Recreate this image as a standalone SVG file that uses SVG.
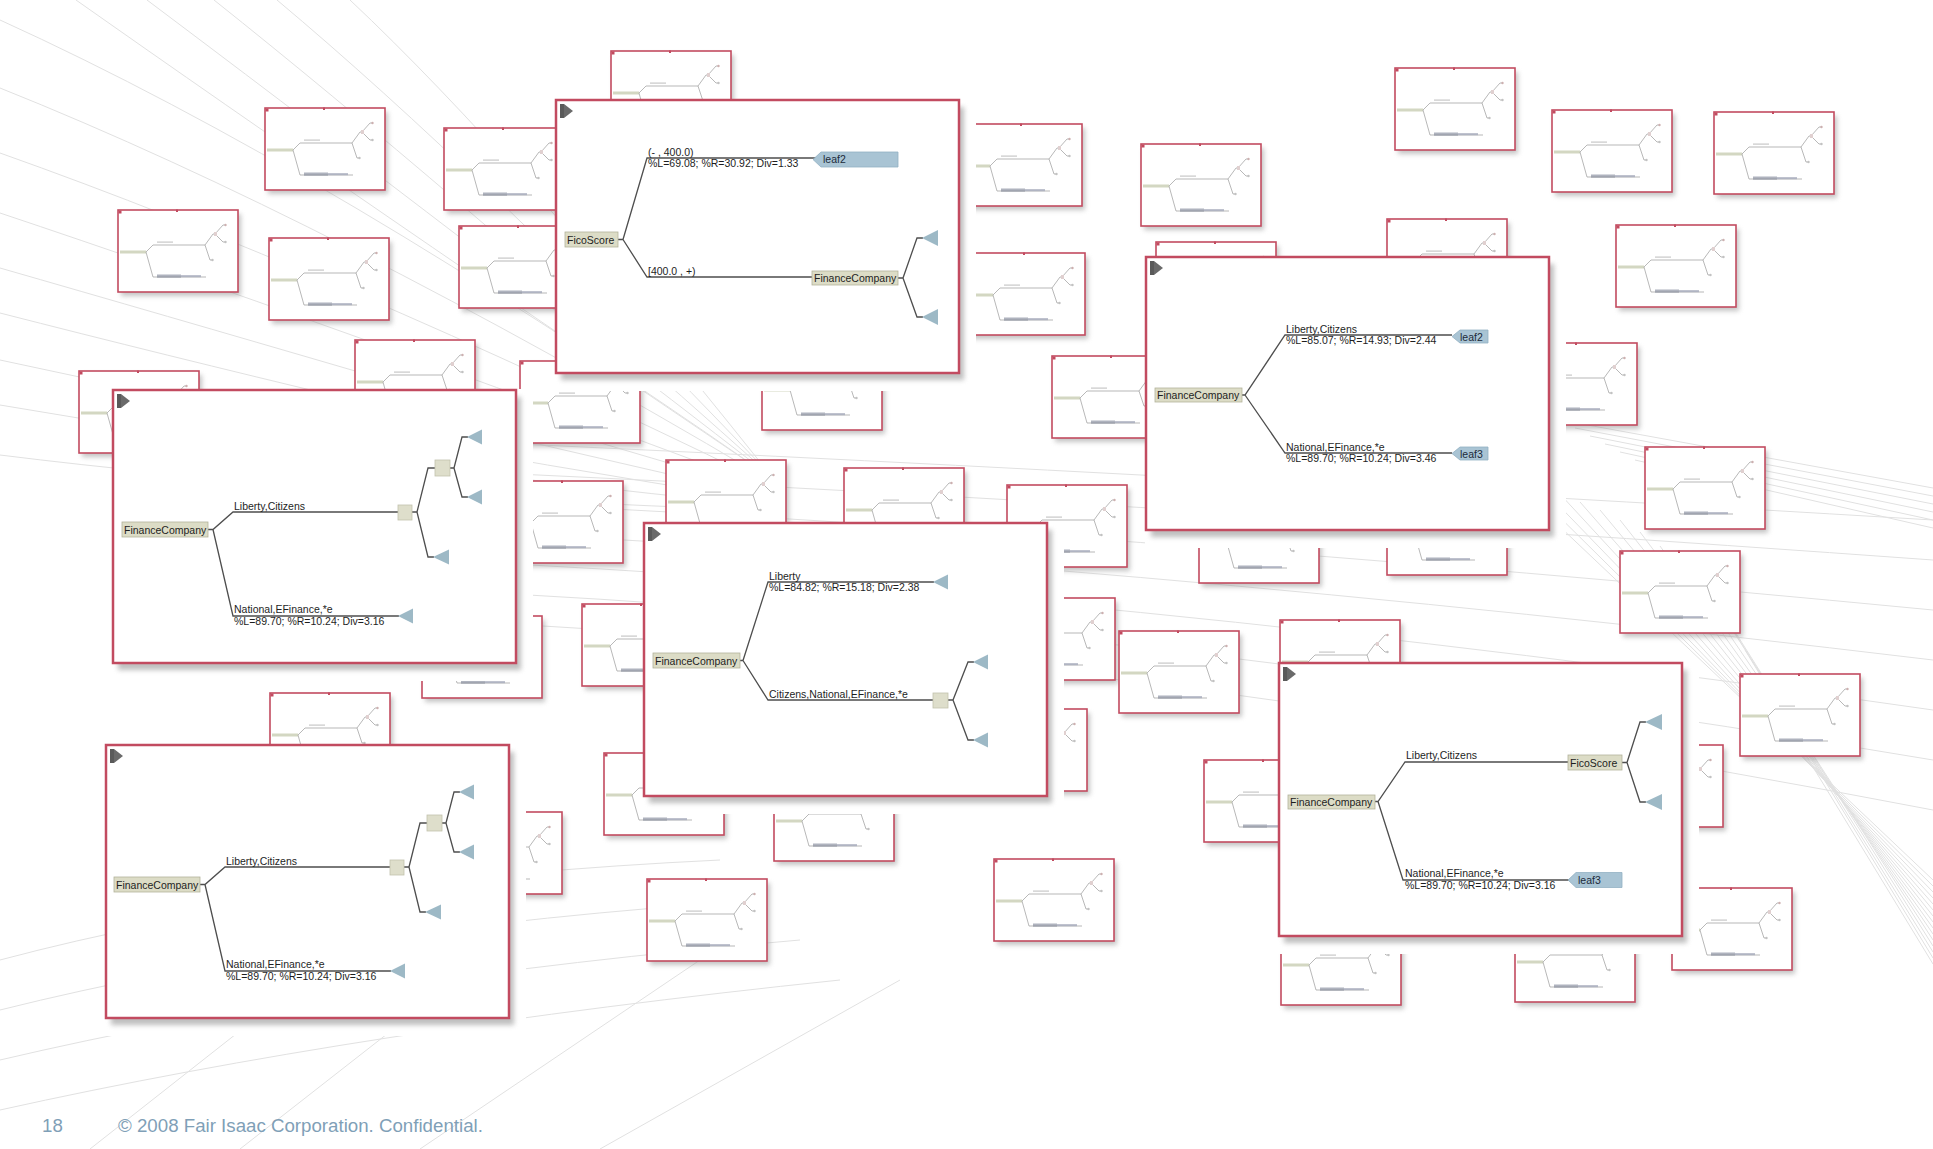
<svg xmlns="http://www.w3.org/2000/svg" xmlns:xlink="http://www.w3.org/1999/xlink" width="1933" height="1149" viewBox="0 0 1933 1149">
  <style>
    .bg path { fill: none; stroke: #e1e1e1; stroke-width: 1; }
    .backing { fill: #ffffff; }
    .shade { fill: #8a8a8a; opacity: 0.55; }
    .frame { fill: #ffffff; stroke: #c24b60; stroke-width: 2.5; }
    .edge { fill: none; stroke: #4e4e4e; stroke-width: 1.3; }
    .node { fill: #dcdcc6; stroke: #b3b39c; stroke-width: 0.8; }
    .box { fill: #dedecb; stroke: #c2c2ad; stroke-width: 0.8; }
    .leaf { fill: #a9c4d4; stroke: #93b1c3; stroke-width: 0.8; }
    .tri { fill: #9db9c6; }
    .t { font-family: "Liberation Sans", Arial, sans-serif; font-size: 10.5px; fill: #1e1e1e; }
    .lt { font-family: "Liberation Sans", Arial, sans-serif; font-size: 10.5px; fill: #1c2b3a; }
    .foot { font-family: "Liberation Sans", Arial, sans-serif; font-size: 18.7px; fill: #7f9fb7; }
  </style>
  <defs>
    <filter id="soft" x="-10%" y="-10%" width="125%" height="130%">
      <feGaussianBlur stdDeviation="2.5"/>
    </filter>
    <!-- miniature tree card -->
    <g id="thumb">
      <rect x="3" y="4" width="120" height="82" fill="#8a8a8a" opacity="0.5" filter="url(#soft)"/>
      <rect width="120" height="82" fill="#fff" stroke="#c24b60" stroke-width="1.6"/>
      <rect x="0.5" y="0.5" width="3" height="3" fill="#c24b60"/>
      <rect x="58" y="-0.5" width="2" height="2.5" fill="#c24b60"/>
      <rect x="2" y="40.5" width="26" height="3" fill="#d3d7c2"/>
      <path d="M28,42 L35,35 H87 M28,42 L35,67 H88 M87,35 L95,24 H97 M87,35 L92,50 H94 M97,24 L105,15 H107 M97,24 L105,32 H107" fill="none" stroke="#9a9a9a" stroke-width="0.7"/>
      <rect x="39" y="31.5" width="16" height="1.2" fill="#c8c8c8"/>
      <rect x="39" y="64.5" width="24" height="3.2" fill="#7a8092" opacity="0.6"/>
      <rect x="63" y="65.2" width="20" height="2" fill="#b0b4c2"/>
      <circle cx="107.5" cy="15" r="1.2" fill="#cdb0b0"/>
      <circle cx="107.5" cy="32" r="1.2" fill="#c2c2c2"/>
      <circle cx="94.5" cy="50" r="1.2" fill="#c2c2c2"/>
      <rect x="96" y="22" width="3" height="4" fill="#e0d0d0"/>
    </g>
    <!-- panel control glyph -->
    <g id="ctl">
      <rect x="4" y="4" width="4" height="14" fill="#5a5a5a"/>
      <path d="M8,4 L17,11 L8,18 Z" fill="#6a6a6a"/>
    </g>
    <g id="bgpanel">
      <rect class="backing" x="-1" y="-1" width="421" height="292"/>
      <rect class="shade" x="5" y="7" width="403" height="273" filter="url(#soft)"/>
      <rect class="frame" width="403" height="273"/>
      <use href="#ctl"/>
    </g>
  </defs>

  <rect width="1933" height="1149" fill="#ffffff"/>

  <!-- faint perspective lines behind the cards -->
  <g class="bg">
    <path d="M0,20 Q330,170 760,470"/>
    <path d="M0,88 Q330,220 760,475"/>
    <path d="M0,153 Q330,270 760,480"/>
    <path d="M0,213 Q320,320 760,485"/>
    <path d="M0,268 Q320,360 760,490"/>
    <path d="M0,313 Q320,395 760,495"/>
    <path d="M0,360 Q320,430 760,500"/>
    <path d="M0,405 Q320,460 760,505"/>
    <path d="M0,455 Q320,495 760,510"/>
    <path d="M76,0 Q360,200 760,470"/>
    <path d="M147,0 Q400,190 760,468"/>
    <path d="M214,0 Q440,180 760,466"/>
    <path d="M277,0 Q480,170 760,464"/>
    <path d="M350,0 Q520,160 760,462"/>
    <path d="M430,440 Q1100,470 1933,520"/>
    <path d="M430,470 Q1100,500 1933,560"/>
    <path d="M430,500 Q1100,530 1933,610"/>
    <path d="M430,530 Q1100,560 1933,660"/>
    <path d="M430,560 Q1100,590 1933,710"/>
    <path d="M430,590 Q1100,620 1933,760"/>
    <path d="M430,620 Q1100,650 1933,810"/>
    <path d="M1500,470 L1933,880"/>
    <path d="M1520,478 L1933,886"/>
    <path d="M1540,486 L1933,892"/>
    <path d="M1560,494 L1933,898"/>
    <path d="M1580,502 L1933,904"/>
    <path d="M1600,510 L1933,910"/>
    <path d="M1620,520 L1933,916"/>
    <path d="M1640,532 L1933,922"/>
    <path d="M1660,546 L1933,928"/>
    <path d="M1680,562 L1933,934"/>
    <path d="M1700,580 L1933,940"/>
    <path d="M1715,600 L1933,946"/>
    <path d="M1730,625 L1933,952"/>
    <path d="M1745,650 L1933,958"/>
    <path d="M1760,680 L1933,964"/>
    <path d="M1560,420 L1933,488"/>
    <path d="M1575,428 L1933,496"/>
    <path d="M1590,436 L1933,504"/>
    <path d="M1605,444 L1933,512"/>
    <path d="M1620,452 L1933,520"/>
    <path d="M1635,460 L1933,528"/>
    <path d="M0,960 Q300,880 720,860"/>
    <path d="M0,1010 Q320,930 760,900"/>
    <path d="M0,1060 Q340,980 800,940"/>
    <path d="M0,1110 Q360,1030 840,980"/>
    <path d="M90,1149 L330,960"/>
    <path d="M240,1149 L520,930"/>
    <path d="M420,1149 L700,960"/>
    <path d="M600,1149 L900,980"/>
  </g>

  <!-- miniature cards -->
  <g id="thumbnails">
    <use id="th-01" href="#thumb" x="611" y="51"/>
    <use id="th-02" href="#thumb" x="265" y="108"/>
    <use id="th-03" href="#thumb" x="444" y="128"/>
    <use id="th-04" href="#thumb" x="118" y="210"/>
    <use id="th-05" href="#thumb" x="269" y="238"/>
    <use id="th-06" href="#thumb" x="459" y="226"/>
    <use id="th-07" href="#thumb" x="962" y="124"/>
    <use id="th-08" href="#thumb" x="965" y="253"/>
    <use id="th-09" href="#thumb" x="1141" y="144"/>
    <use id="th-10" href="#thumb" x="1395" y="68"/>
    <use id="th-11" href="#thumb" x="1552" y="110"/>
    <use id="th-12" href="#thumb" x="1714" y="112"/>
    <use id="th-13" href="#thumb" x="1387" y="219"/>
    <use id="th-14" href="#thumb" x="1616" y="225"/>
    <use id="th-15" href="#thumb" x="1156" y="242"/>
    <use id="th-16" href="#thumb" x="1052" y="356"/>
    <use id="th-17" href="#thumb" x="1517" y="343"/>
    <use id="th-18" href="#thumb" x="355" y="340"/>
    <use id="th-19" href="#thumb" x="79" y="371"/>
    <use id="th-20" href="#thumb" x="520" y="361"/>
    <use id="th-21" href="#thumb" x="762" y="348"/>
    <use id="th-22" href="#thumb" x="503" y="481"/>
    <use id="th-23" href="#thumb" x="666" y="460"/>
    <use id="th-24" href="#thumb" x="844" y="468"/>
    <use id="th-25" href="#thumb" x="1007" y="485"/>
    <use id="th-26" href="#thumb" x="1199" y="501"/>
    <use id="th-27" href="#thumb" x="995" y="598"/>
    <use id="th-28" href="#thumb" x="1119" y="631"/>
    <use id="th-29" href="#thumb" x="1204" y="760"/>
    <use id="th-30" href="#thumb" x="967" y="709"/>
    <use id="th-31" href="#thumb" x="582" y="604"/>
    <use id="th-32" href="#thumb" x="422" y="616"/>
    <use id="th-33" href="#thumb" x="604" y="753"/>
    <use id="th-34" href="#thumb" x="774" y="779"/>
    <use id="th-35" href="#thumb" x="442" y="812"/>
    <use id="th-36" href="#thumb" x="647" y="879"/>
    <use id="th-37" href="#thumb" x="994" y="859"/>
    <use id="th-38" href="#thumb" x="1387" y="493"/>
    <use id="th-39" href="#thumb" x="1645" y="447"/>
    <use id="th-40" href="#thumb" x="1620" y="551"/>
    <use id="th-41" href="#thumb" x="1280" y="620"/>
    <use id="th-42" href="#thumb" x="1740" y="674"/>
    <use id="th-43" href="#thumb" x="1603" y="745"/>
    <use id="th-44" href="#thumb" x="1672" y="888"/>
    <use id="th-45" href="#thumb" x="1281" y="923"/>
    <use id="th-46" href="#thumb" x="1515" y="920"/>
    <use id="th-47" href="#thumb" x="270" y="693"/>
  </g>

  <!-- card: FicoScore root -->
  <g id="panel-1" transform="translate(556,100)">
    <use href="#bgpanel"/>
    <g id="p1-connectors">
      <path class="edge" d="M62,139.5 H67 L91,58 H262 M67,139.5 L91,177 H256 M342,178 H347 L361,138 H367 M347,178 L361,217 H367"/>
    </g>
    <g id="p1-ficoscore"><rect class="node" x="9" y="132" width="53" height="15"/><text class="t" x="11" y="143.5">FicoScore</text></g>
    <g id="p1-label-lo"><text class="t" x="92" y="56">(- , 400.0)</text><text class="t" x="92" y="67">%L=69.08; %R=30.92; Div=1.33</text></g>
    <g id="p1-leaf2"><path class="leaf" d="M257,59.5 L265,52 H342 V67 H265 Z"/><text class="lt" x="267" y="63">leaf2</text></g>
    <g id="p1-label-hi"><text class="t" x="92" y="175">[400.0 , +)</text></g>
    <g id="p1-finance"><rect class="node" x="256" y="171" width="86" height="14"/><text class="t" x="258" y="182">FinanceCompany</text></g>
    <g id="p1-t1"><path class="tri" d="M366,138 L382,130 V146 Z"/></g>
    <g id="p1-t2"><path class="tri" d="M366,217 L382,209 V225 Z"/></g>
  </g>

  <!-- card: two leaves -->
  <g id="panel-2" transform="translate(1146,257)">
    <use href="#bgpanel"/>
    <g id="p2-connectors">
      <path class="edge" d="M96,138 H99 L139,78 H306 M99,138 L139,196 H306"/>
    </g>
    <g id="p2-finance"><rect class="node" x="9" y="131" width="87" height="14"/><text class="t" x="11" y="142">FinanceCompany</text></g>
    <g id="p2-label-a"><text class="t" x="140" y="76">Liberty,Citizens</text><text class="t" x="140" y="87">%L=85.07; %R=14.93; Div=2.44</text></g>
    <g id="p2-leaf2"><path class="leaf" d="M306,79.5 L314,73 H342 V86 H314 Z"/><text class="lt" x="314" y="83.5">leaf2</text></g>
    <g id="p2-label-b"><text class="t" x="140" y="194">National,EFinance,*e</text><text class="t" x="140" y="205">%L=89.70; %R=10.24; Div=3.46</text></g>
    <g id="p2-leaf3"><path class="leaf" d="M306,196.5 L314,190 H342 V203 H314 Z"/><text class="lt" x="314" y="200.5">leaf3</text></g>
  </g>

  <!-- card: deeper left branch -->
  <g id="panel-3" transform="translate(113,390)">
    <use href="#bgpanel"/>
    <g id="p3-connectors">
      <path class="edge" d="M95,139.5 H100 L120,122 H285 M299,122 H304 L315,78 H322 M304,122 L315,167 H321 M337,78 H341 L349,47 H355 M341,78 L349,107 H355 M100,139.5 L120,226 H286"/>
    </g>
    <g id="p3-finance"><rect class="node" x="9" y="132" width="86" height="15"/><text class="t" x="11" y="143.5">FinanceCompany</text></g>
    <g id="p3-label-a"><text class="t" x="121" y="120">Liberty,Citizens</text></g>
    <g id="p3-box1"><rect class="box" x="285" y="115" width="14" height="15"/></g>
    <g id="p3-box2"><rect class="box" x="322" y="70" width="15" height="16"/></g>
    <g id="p3-t1"><path class="tri" d="M354,47 L369,39.5 V54.5 Z"/></g>
    <g id="p3-t2"><path class="tri" d="M354,107 L369,99.5 V114.5 Z"/></g>
    <g id="p3-t3"><path class="tri" d="M320,167 L336,159.5 V174.5 Z"/></g>
    <g id="p3-label-b"><text class="t" x="121" y="223">National,EFinance,*e</text><text class="t" x="121" y="235">%L=89.70; %R=10.24; Div=3.16</text></g>
    <g id="p3-t4"><path class="tri" d="M285,226 L300,218.5 V233.5 Z"/></g>
  </g>

  <!-- card: lower branch split -->
  <g id="panel-4" transform="translate(644,523)">
    <use href="#bgpanel"/>
    <g id="p4-connectors">
      <path class="edge" d="M96,137.5 H99 L124,59 H290 M99,137.5 L124,177 H289 M304,177 H309 L324,139 H330 M309,177 L324,217 H330"/>
    </g>
    <g id="p4-finance"><rect class="node" x="9" y="130" width="87" height="15"/><text class="t" x="11" y="141.5">FinanceCompany</text></g>
    <g id="p4-label-a"><text class="t" x="125" y="57">Liberty</text><text class="t" x="125" y="68">%L=84.82; %R=15.18; Div=2.38</text></g>
    <g id="p4-t1"><path class="tri" d="M289,59 L304,51.5 V66.5 Z"/></g>
    <g id="p4-label-b"><text class="t" x="125" y="175">Citizens,National,EFinance,*e</text></g>
    <g id="p4-box"><rect class="box" x="289" y="170" width="15" height="15"/></g>
    <g id="p4-t2"><path class="tri" d="M329,139 L344,131.5 V146.5 Z"/></g>
    <g id="p4-t3"><path class="tri" d="M329,217 L344,209.5 V224.5 Z"/></g>
  </g>

  <!-- card: FicoScore under the upper branch -->
  <g id="panel-5" transform="translate(1279,663)">
    <use href="#bgpanel"/>
    <g id="p5-connectors">
      <path class="edge" d="M96,138.5 H99 L126,99 H289 M99,138.5 L124,217 H290 M343,99.5 H348 L361,59 H367 M348,99.5 L361,139 H367"/>
    </g>
    <g id="p5-finance"><rect class="node" x="9" y="132" width="87" height="14"/><text class="t" x="11" y="143">FinanceCompany</text></g>
    <g id="p5-label-a"><text class="t" x="127" y="96">Liberty,Citizens</text></g>
    <g id="p5-ficoscore"><rect class="node" x="289" y="92" width="54" height="15"/><text class="t" x="291" y="103.5">FicoScore</text></g>
    <g id="p5-t1"><path class="tri" d="M366,59 L383,51 V67 Z"/></g>
    <g id="p5-t2"><path class="tri" d="M366,139 L383,131 V147 Z"/></g>
    <g id="p5-label-b"><text class="t" x="126" y="214">National,EFinance,*e</text><text class="t" x="126" y="226">%L=89.70; %R=10.24; Div=3.16</text></g>
    <g id="p5-leaf3"><path class="leaf" d="M289,217 L297,209.5 H343 V224.5 H297 Z"/><text class="lt" x="299" y="221">leaf3</text></g>
  </g>

  <!-- card: deeper left branch, second copy -->
  <g id="panel-6" transform="translate(106,745)">
    <use href="#bgpanel"/>
    <g id="p6-connectors">
      <path class="edge" d="M94,139.5 H99 L119,122 H284 M298,122 H303 L314,78 H321 M303,122 L314,167 H320 M336,78 H340 L348,47 H354 M340,78 L348,107 H354 M99,139.5 L119,226 H285"/>
    </g>
    <g id="p6-finance"><rect class="node" x="8" y="132" width="86" height="15"/><text class="t" x="10" y="143.5">FinanceCompany</text></g>
    <g id="p6-label-a"><text class="t" x="120" y="120">Liberty,Citizens</text></g>
    <g id="p6-box1"><rect class="box" x="284" y="115" width="14" height="15"/></g>
    <g id="p6-box2"><rect class="box" x="321" y="70" width="15" height="16"/></g>
    <g id="p6-t1"><path class="tri" d="M353,47 L368,39.5 V54.5 Z"/></g>
    <g id="p6-t2"><path class="tri" d="M353,107 L368,99.5 V114.5 Z"/></g>
    <g id="p6-t3"><path class="tri" d="M319,167 L335,159.5 V174.5 Z"/></g>
    <g id="p6-label-b"><text class="t" x="120" y="223">National,EFinance,*e</text><text class="t" x="120" y="235">%L=89.70; %R=10.24; Div=3.16</text></g>
    <g id="p6-t4"><path class="tri" d="M284,226 L299,218.5 V233.5 Z"/></g>
  </g>

  <!-- slide footer -->
  <g id="footer">
    <text class="foot" x="42" y="1132">18</text>
    <text class="foot" x="118" y="1132">© 2008 Fair Isaac Corporation. Confidential.</text>
  </g>
</svg>
